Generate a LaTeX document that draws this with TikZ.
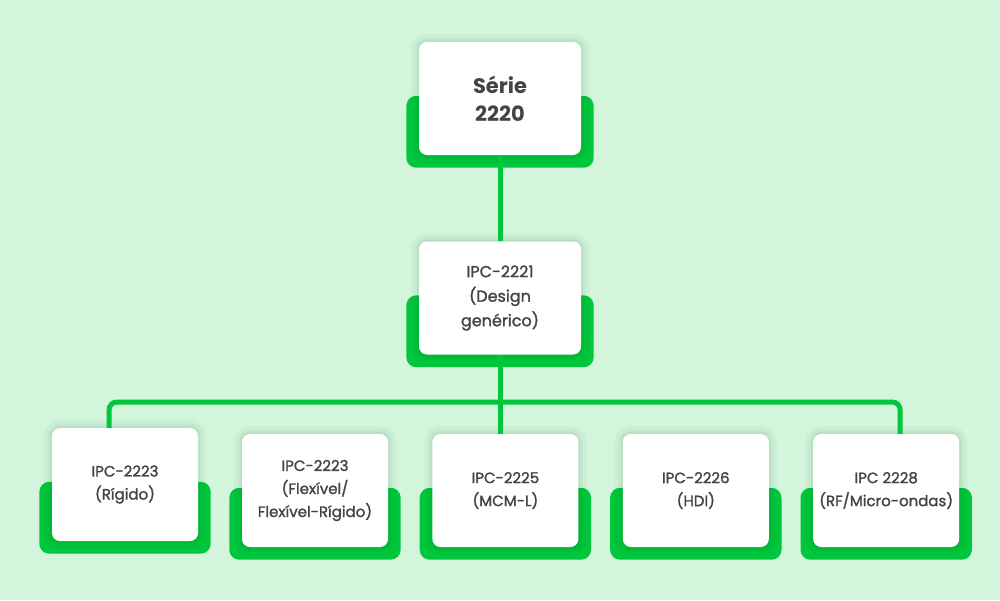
\documentclass[tikz,border=0pt]{standalone}
\usepackage{fontspec}
\setmainfont{Poppins}
\newfontfamily\medfont{Poppins}[FakeBold = 1.5]
\usetikzlibrary{positioning}
\definecolor{mint}{HTML}{D3F5DC}
\definecolor{pcbgreen}{HTML}{00C73C}
\definecolor{inkgray}{HTML}{444444}
\pgfdeclarelayer{background}
\pgfsetlayers{background,main}
\tikzset{%
	link/.style = {line width = 5pt, draw = pcbgreen},
	glow/.style = {preaction = {draw = black!60!pcbgreen, draw opacity = 0.035, line width = 16pt},
		preaction = {draw = black!60!pcbgreen, draw opacity = 0.04, line width = 9pt},
		preaction = {draw = black!60!pcbgreen, draw opacity = 0.05, line width = 4pt}},
	card/.style = {name = #1, rectangle, fill = white, glow, rounded corners = 8pt, text = inkgray, align = center,
		inner xsep = 0pt, minimum width = 146pt, minimum height = 113pt, font = \medfont\fontsize{15}{23}\selectfont},
	head/.style = {card = #1, minimum width = 162pt, font = \medfont\fontsize{16}{24.5}\selectfont},
	base/.style = {fill = pcbgreen, rounded corners = 10pt}
}
\begin{document}
\begin{tikzpicture}[x = 1pt, y = -1pt]
	\begin{pgfonlayer}{background}
		\fill [mint] (0,0) rectangle (1000,600);
	\end{pgfonlayer}
	\useasboundingbox (0,0) rectangle (1000,600);
	\node [head = top, font = \rmfamily\bfseries\fontsize{21}{28}\selectfont] at (500,98.5) {Série\\2220};
	\node [head = mid] at (500,298) {IPC-2221\\(Design\\genérico)};
	\node [card = b1] at (125,484.5) {IPC-2223\\(Rígido)};
	\node [card = b2] at (315,490.5) {IPC-2223\\(Flexível/\\Flexível-Rígido)};
	\node [card = b3, right = 44pt of b2] {IPC-2225\\(MCM-L)};
	\node [card = b4, right = 44pt of b3] {IPC-2226\\(HDI)};
	\node [card = b5, right = 44pt of b4] {IPC 2228\\(RF/Micro-ondas)};
	% green bases behind the cards
	\begin{pgfonlayer}{background}
		\foreach \n in {top, mid, b1, b2, b3, b4, b5}
			\fill [base] ([xshift = -12.5pt, yshift = -54pt]\n.north west) rectangle ([xshift = 12.5pt, yshift = -12.5pt]\n.south east);
	\end{pgfonlayer}
	% connectors
	\coordinate (bus) at (500,402);
	\draw [link] (top.south) -- (mid.north);
	\draw [link] (mid.south) -- (mid.south |- b3.north);
	\draw [link, rounded corners = 8pt] ([xshift = -16pt]b1.north) |- (bus) -| ([xshift = 14pt]b5.north);
\end{tikzpicture}
\end{document}
